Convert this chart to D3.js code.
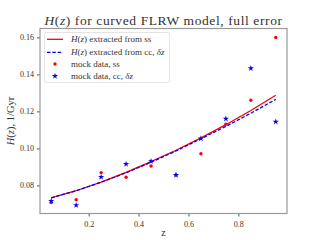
<!DOCTYPE html>
<html>
<head>
<meta charset="utf-8">
<script src="https://cdn.jsdelivr.net/npm/d3@7"></script>
<style>
  body { margin: 0; background: #fff; }
  text { font-family: "Liberation Serif", "DejaVu Serif", serif; fill: #333; }
</style>
</head>
<body>
<script>
const width = 320, height = 240;
const margin = {top: 28.5, right: 33, bottom: 26.5, left: 40};

const zValues = [0.05, 0.15, 0.25, 0.35, 0.45, 0.55, 0.65, 0.75, 0.85, 0.95];
const fitSS = [0.0733, 0.0771, 0.0818, 0.0870, 0.0928, 0.0990, 0.1057, 0.1128, 0.1205, 0.1287];
const fitCC = [0.0733, 0.0771, 0.0817, 0.0868, 0.0925, 0.0986, 0.1052, 0.1119, 0.1190, 0.1265];
const mockSS = [0.0707, 0.0722, 0.0869, 0.0844, 0.0905, 0.0856, 0.0971, 0.1131, 0.1260, 0.1600];
const mockCC = [0.0716, 0.0693, 0.0845, 0.0915, 0.0931, 0.0856, 0.1053, 0.1160, 0.1433, 0.1144];
const xTicks = [0.2, 0.4, 0.6, 0.8];
const yTicks = [0.08, 0.10, 0.12, 0.14, 0.16];

const svg = d3.select("body").append("svg")
    .attr("width", width)
    .attr("height", height);

const x = d3.scaleLinear().domain([0.005, 0.995]).range([margin.left, width - margin.right]);
const y = d3.scaleLinear().domain([0.0648, 0.1648]).range([height - margin.bottom, margin.top]);

// axes
svg.append("g")
    .attr("transform", `translate(0,${height - margin.bottom})`)
    .call(d3.axisBottom(x).tickValues(xTicks).tickFormat(d3.format(".1f")).tickSizeOuter(0).tickSize(3))
    .call(g => g.select(".domain").remove())
    .call(g => g.selectAll("line").attr("stroke", "#555"))
    .call(g => g.selectAll("text").attr("font-size", 8).attr("dy", "0.9em")
        .style("font-family", "Liberation Serif, serif").attr("fill", "#444"));

svg.append("g")
    .attr("transform", `translate(${margin.left},0)`)
    .call(d3.axisLeft(y).tickValues(yTicks).tickFormat(d3.format(".2f")).tickSizeOuter(0).tickSize(3))
    .call(g => g.select(".domain").remove())
    .call(g => g.selectAll("line").attr("stroke", "#555"))
    .call(g => g.selectAll("text").attr("font-size", 8)
        .style("font-family", "Liberation Serif, serif").attr("fill", "#444"));

// fit lines
const line = d3.line().x((d, i) => x(zValues[i])).y(d => y(d));

svg.append("path").datum(fitSS)
    .attr("d", line).attr("fill", "none")
    .attr("stroke", "red").attr("stroke-width", 1.3);

svg.append("path").datum(fitCC)
    .attr("d", line).attr("fill", "none")
    .attr("stroke", "blue").attr("stroke-width", 1.3)
    .attr("stroke-dasharray", "3.5,1.8");

// mock data
svg.append("g").selectAll("circle").data(mockSS).join("circle")
    .attr("cx", (d, i) => x(zValues[i])).attr("cy", d => y(d))
    .attr("r", 1.7).attr("fill", "red");

const star = d3.symbol().type(d3.symbolStar).size(12);
svg.append("g").selectAll("path").data(mockCC).join("path")
    .attr("transform", (d, i) => `translate(${x(zValues[i])},${y(d)})`)
    .attr("d", star).attr("fill", "blue");

// frame
svg.append("rect")
    .attr("x", margin.left).attr("y", margin.top)
    .attr("width", width - margin.left - margin.right)
    .attr("height", height - margin.top - margin.bottom)
    .attr("fill", "none").attr("stroke", "#999").attr("stroke-width", 1.2);

// legend
const legend = svg.append("g");
legend.append("rect")
    .attr("x", 44.5).attr("y", 32.5).attr("width", 125).attr("height", 50)
    .attr("rx", 2).attr("fill", "#fff").attr("fill-opacity", 0.85)
    .attr("stroke", "#ddd").attr("stroke-width", 0.8);

const rows = [39.3, 52.3, 64, 76];
legend.append("line").attr("x1", 47).attr("x2", 63).attr("y1", rows[0]).attr("y2", rows[0])
    .attr("stroke", "red").attr("stroke-width", 1.3);
legend.append("line").attr("x1", 47).attr("x2", 63).attr("y1", rows[1]).attr("y2", rows[1])
    .attr("stroke", "blue").attr("stroke-width", 1.3).attr("stroke-dasharray", "3.5,1.8");
legend.append("circle").attr("cx", 55).attr("cy", rows[2]).attr("r", 1.7).attr("fill", "red");
legend.append("path").attr("transform", `translate(55,${rows[3]})`).attr("d", star).attr("fill", "blue");

function mathLabel(g, parts) {
  parts.forEach(p => g.append("tspan").attr("font-style", p[1] ? "italic" : null).text(p[0]));
}
const labels = [
  [["H", 1], ["(", 0], ["z", 1], [") extracted from ss", 0]],
  [["H", 1], ["(", 0], ["z", 1], [") extracted from cc, ", 0], ["δz", 1]],
  [["mock data, ss", 0]],
  [["mock data, cc, ", 0], ["δz", 1]]
];
labels.forEach((parts, i) => {
  const t = legend.append("text").attr("x", 71).attr("y", rows[i]).attr("dy", "0.33em")
      .attr("font-size", 9);
  mathLabel(t, parts);
});

// title and axis labels
const title = svg.append("text").attr("x", (margin.left + width - margin.right) / 2).attr("y", 24.5)
    .attr("text-anchor", "middle").attr("font-size", 13.5).attr("letter-spacing", 0.6).attr("fill", "#222");
mathLabel(title, [["H", 1], ["(", 0], ["z", 1], [") for curved FLRW model, full error", 0]]);

svg.append("text").attr("x", (margin.left + width - margin.right) / 2).attr("y", 236)
    .attr("text-anchor", "middle").attr("font-size", 10).attr("fill", "#444").text("z");

const yl = svg.append("text")
    .attr("transform", `translate(14,${(margin.top + height - margin.bottom) / 2}) rotate(-90)`)
    .attr("text-anchor", "middle").attr("font-size", 10.5).attr("fill", "#444");
mathLabel(yl, [["H", 1], ["(", 0], ["z", 1], ["),  1/Gyr", 0]]);
</script>
</body>
</html>
